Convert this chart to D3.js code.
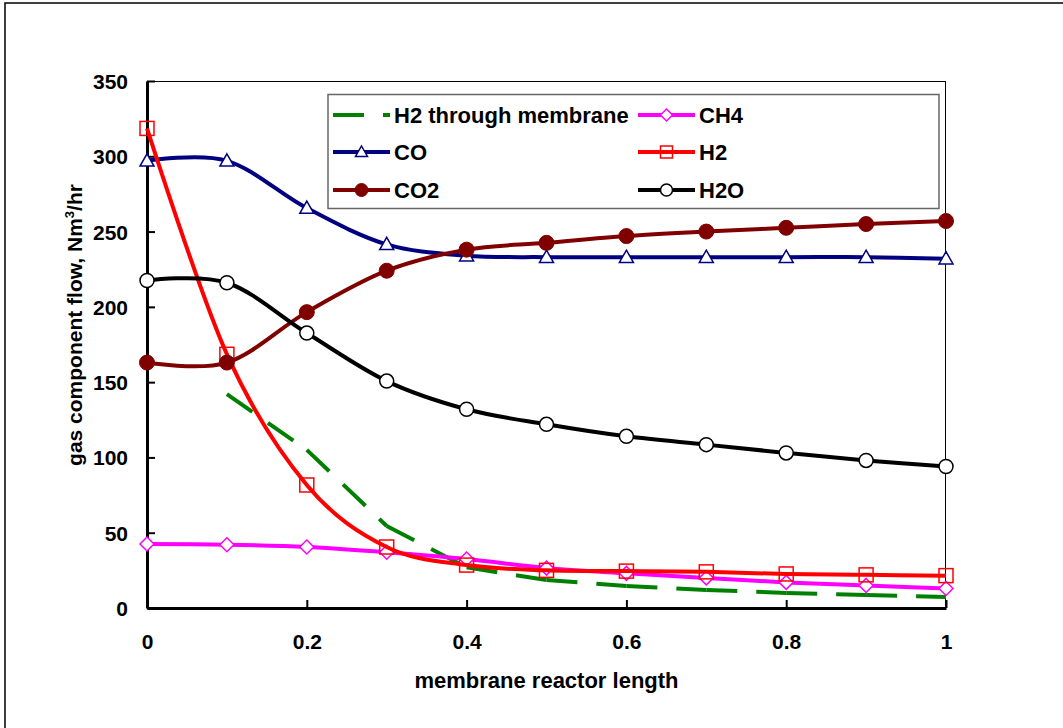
<!DOCTYPE html>
<html><head><meta charset="utf-8">
<script src="https://cdn.jsdelivr.net/npm/d3@7"></script>
<style>body{margin:0;background:#fff}svg{display:block}text{font-family:"Liberation Sans",Arial,sans-serif;font-weight:bold;fill:#000}</style>
</head><body>
<script>
const xValues = [0,0.1,0.2,0.3,0.4,0.5,0.6,0.7,0.8,0.9,1];
const h2MembraneX = [0.1,0.2,0.3,0.4,0.5,0.6,0.7,0.8,0.9,1];
const h2Membrane = [142,105,54.5,27,18.6,14.6,12,10,8.6,7.3];
const ch4 = [42.5,42,40.5,37,32.5,26.5,23,20,17,15,13];
const co = [297,297,265.6,241.5,234,233,233,233,233,233,232];
const h2 = [318.5,168.5,81.7,40.5,28.5,25,24.5,24,22.6,22,21.5];
const co2 = [163,163,196.5,224,238,242.5,247,250,252.5,255,257];
const h2o = [217.5,216,182.6,150.7,132,122,114,108.5,103,98,94];
const xTicks = [0,0.2,0.4,0.6,0.8,1];
const xTickLabels = ["0","0.2","0.4","0.6","0.8","1"];
const yTicks = [0,50,100,150,200,250,300,350];
const legendNames = ["H2 through membrane","CH4","CO","H2","CO2","H2O"];

const W=1063,H=728;
const svg=d3.select("body").append("svg").attr("width",W).attr("height",H);
svg.append("rect").attr("x",5).attr("y",3).attr("width",1200).attr("height",900).attr("fill","none").attr("stroke","#000").attr("stroke-width",1.5);

const x=d3.scaleLinear().domain([0,1]).range([147,946]);
const y=d3.scaleLinear().domain([0,350]).range([608,81]);

// frame
svg.append("line").attr("x1",147).attr("x2",946).attr("y1",81.5).attr("y2",81.5).attr("stroke","#000").attr("stroke-width",1);
svg.append("line").attr("x1",945.5).attr("x2",945.5).attr("y1",81).attr("y2",608).attr("stroke","#000").attr("stroke-width",1);

// axes
const gx=svg.append("g").attr("transform","translate(0,608)")
  .call(d3.axisBottom(x).tickValues(xTicks).tickFormat((d,i)=>xTickLabels[i]).tickSizeInner(-8).tickSizeOuter(0).tickPadding(26));
const gy=svg.append("g").attr("transform","translate(147,0)")
  .call(d3.axisLeft(y).tickValues(yTicks).tickSizeInner(-8).tickSizeOuter(0).tickPadding(19));
[gx,gy].forEach(g=>{
  g.select(".domain").attr("stroke","#000").attr("stroke-width",3);
  g.selectAll(".tick line").attr("stroke","#000").attr("stroke-width",2);
  g.selectAll(".tick text").attr("font-size",21).attr("font-family","Liberation Sans, Arial").attr("font-weight","bold").attr("fill","#000");
});
gy.selectAll(".tick text").attr("dy","0.36em");

svg.append("text").attr("x",546.5).attr("y",688).attr("text-anchor","middle").attr("font-size",22).text("membrane reactor length");
const yt=svg.append("text").attr("transform","translate(82,325) rotate(-90)").attr("text-anchor","middle").attr("font-size",21);
yt.append("tspan").text("gas component flow, Nm");
yt.append("tspan").attr("font-size",13).attr("dy",-8).text("3");
yt.append("tspan").attr("dy",8).text("/hr");

const curve=d3.curveCardinal.tension(0);
const mk=(vals)=>xValues.map((v,i)=>[v,vals[i]]);
const line=d3.line().x(d=>x(d[0])).y(d=>y(d[1])).curve(curve);

// green dashed (linear, dash pattern restarts per segment)
const gpts=h2MembraneX.map((v,i)=>[v,h2Membrane[i]]);
for(let i=0;i<gpts.length-1;i++){
  svg.append("line").attr("x1",x(gpts[i][0])).attr("y1",y(gpts[i][1])).attr("x2",x(gpts[i+1][0])).attr("y2",y(gpts[i+1][1]))
    .attr("stroke","#008000").attr("stroke-width",4).attr("stroke-dasharray","31,19");
}

function marker(g,type,cx,cy,color,s){
  if(type==="diamond"){
    g.append("path").attr("d",`M${cx},${cy-s}L${cx+s},${cy}L${cx},${cy+s}L${cx-s},${cy}Z`).attr("fill","#fff").attr("stroke",color).attr("stroke-width",1.5);
  } else if(type==="triangle"){
    g.append("path").attr("d",`M${cx},${cy-s}L${cx+s},${cy+s*0.75}L${cx-s},${cy+s*0.75}Z`).attr("fill","#fff").attr("stroke",color).attr("stroke-width",1.5);
  } else if(type==="square"){
    g.append("rect").attr("x",cx-s).attr("y",cy-s).attr("width",2*s).attr("height",2*s).attr("fill","none").attr("stroke",color).attr("stroke-width",1.5);
  } else if(type==="dot"){
    g.append("circle").attr("cx",cx).attr("cy",cy).attr("r",s).attr("fill",color).attr("stroke",color);
  } else if(type==="circle"){
    g.append("circle").attr("cx",cx).attr("cy",cy).attr("r",s).attr("fill","#fff").attr("stroke",color).attr("stroke-width",1.5);
  }
}

const series=[
  {vals:ch4,color:"#FF00FF",type:"diamond",s:7},
  {vals:co,color:"#000080",type:"triangle",s:7},
  {vals:h2,color:"#FF0000",type:"square",s:7},
  {vals:co2,color:"#800000",type:"dot",s:7.5},
  {vals:h2o,color:"#000000",type:"circle",s:7}
];
series.forEach(sr=>{
  const g=svg.append("g");
  g.append("path").datum(mk(sr.vals)).attr("d",line).attr("fill","none").attr("stroke",sr.color).attr("stroke-width",4);
  mk(sr.vals).forEach(p=>marker(g,sr.type,x(p[0]),y(p[1]),sr.color,sr.s));
});

// legend
const lg=svg.append("g");
lg.append("rect").attr("x",328).attr("y",94.5).attr("width",611).attr("height",114).attr("fill","#fff").attr("stroke","#666").attr("stroke-width",1.5);
const rows=[115,152,190];
const cols=[{x1:333,x2:390,tx:394},{x1:638,x2:695,tx:699}];
const legendItems=[
  {name:legendNames[0],color:"#008000",type:null,r:0,c:0},
  {name:legendNames[1],color:"#FF00FF",type:"diamond",r:0,c:1,s:6},
  {name:legendNames[2],color:"#000080",type:"triangle",r:1,c:0,s:6},
  {name:legendNames[3],color:"#FF0000",type:"square",r:1,c:1,s:6},
  {name:legendNames[4],color:"#800000",type:"dot",r:2,c:0,s:6.5},
  {name:legendNames[5],color:"#000000",type:"circle",r:2,c:1,s:6}
];
legendItems.forEach(it=>{
  const cy=rows[it.r],c=cols[it.c];
  const ln=lg.append("line").attr("x1",c.x1).attr("x2",c.x2).attr("y1",cy).attr("y2",cy).attr("stroke",it.color).attr("stroke-width",4);
  if(!it.type) ln.attr("stroke-dasharray","31,19");
  else marker(lg,it.type,(c.x1+c.x2)/2,cy,it.color,it.s);
  lg.append("text").attr("x",c.tx).attr("y",cy+8).attr("font-size",22).text(it.name);
});
</script>
</body></html>
